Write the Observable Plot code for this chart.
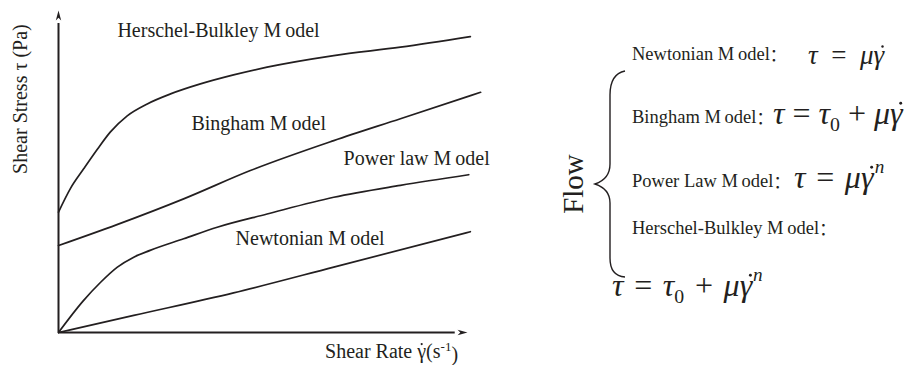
<!DOCTYPE html>
<html><head><meta charset="utf-8">
<script src="https://cdn.jsdelivr.net/npm/d3@7"></script>
<script src="https://cdn.jsdelivr.net/npm/@observablehq/plot@0.6"></script>
<style>body{margin:0;background:#fff} svg{display:block}</style>
</head><body><div id="chart"></div>
<script>
// ---- data (arbitrary units 0..100) ----
const models = ["Herschel-Bulkley", "Bingham", "Power law", "Newtonian"];
const hbX = [0, 2.9, 6.2, 9.5, 12.7, 16.8, 21.7, 27.4, 34.7, 42.8, 51.0, 67.3, 83.6, 100.7];
const hbY = [37.4, 44.7, 50.9, 56.9, 62.3, 67.3, 71.0, 74.1, 77.2, 80.0, 82.4, 86.0, 88.6, 91.9];
const binghamX = [0, 14.3, 30.6, 46.9, 67.3, 83.6, 103.2];
const binghamY = [27.0, 33.5, 41.5, 50.3, 59.6, 66.4, 74.6];
const powerX = [0, 6.1, 10.3, 14.4, 18.4, 22.4, 30.6, 38.8, 51.0, 67.3, 83.6, 100.3];
const powerY = [0, 9.9, 15.6, 20.3, 23.4, 25.5, 29.1, 32.7, 36.8, 42.0, 45.7, 49.0];
const newtonX = [0, 18.4, 42.8, 67.3, 100.7];
const newtonY = [0, 5.3, 12.3, 20.3, 31.3];

const curveLabels = ["Herschel-Bulkley M\u2009odel", "Bingham M\u2009odel", "Power law M\u2009odel", "Newtonian M\u2009odel"];
const yTitle = "Shear Stress τ (Pa)";
const xTitleParts = ["Shear Rate ", "γ", "(s", "-1", ")"];
const flowTitle = "Flow";
const panelLabels = ["Newtonian M\u2009odel：", "Bingham M\u2009odel：", "Power Law M\u2009odel：", "Herschel-Bulkley M\u2009odel："];

// ---- tables built from the arrays ----
const series = [[hbX, hbY], [binghamX, binghamY], [powerX, powerY], [newtonX, newtonY]];
const rows = series.flatMap(([xs, ys], i) => xs.map((x, j) => ({model: models[i], x, y: ys[j]})));
const labelPos = [[14.4, 93.8], [32.5, 64.9], [69.7, 54.0], [43.3, 29.2]];
const labels = curveLabels.map((t, i) => ({text: t, x: labelPos[i][0], y: labelPos[i][1]}));

const INK = "#231f20";
const SERIF = "'Times New Roman','Liberation Serif',serif";
const MATH = "'Liberation Serif','DejaVu Serif',serif";
const CJK = "'Noto Sans CJK SC',sans-serif";

const arrowUp = {draw(ctx, size) { const r = Math.sqrt(size / Math.PI);
  ctx.moveTo(0, 0); ctx.lineTo(-0.6 * r, 2.2 * r); ctx.lineTo(0, 1.6 * r); ctx.lineTo(0.6 * r, 2.2 * r); ctx.closePath(); }};
const arrowRight = {draw(ctx, size) { const r = Math.sqrt(size / Math.PI);
  ctx.moveTo(0, 0); ctx.lineTo(-2.2 * r, -0.6 * r); ctx.lineTo(-1.6 * r, 0); ctx.lineTo(-2.2 * r, 0.6 * r); ctx.closePath(); }};

const plot = Plot.plot({
  width: 919, height: 365, margin: 0,
  x: {domain: [0, 100], range: [58, 467], axis: null},
  y: {domain: [0, 100], range: [332, 10], axis: null},
  style: {fontFamily: SERIF, background: "#fff", color: INK},
  marks: [
    Plot.ruleY([0], {x1: 0, x2: 97, stroke: INK, strokeWidth: 2}),
    Plot.ruleX([0], {y1: 0, y2: 96, stroke: INK, strokeWidth: 2}),
    Plot.dot([0], {x: 0, y: 100, symbol: arrowUp, r: 4.5, fill: INK, stroke: "none"}),
    Plot.dot([0], {x: 100, y: 0, symbol: arrowRight, r: 4.5, fill: INK, stroke: "none"}),
    Plot.line(rows, {x: "x", y: "y", z: "model", stroke: INK, strokeWidth: 1.7, curve: "monotone-x"}),
    Plot.text(labels, {x: "x", y: "y", text: "text", textAnchor: "start", fontSize: 20, fill: INK}),
    Plot.text([yTitle], {x: -9.3, y: 72.5, text: d => d, rotate: -90, fontSize: 20, fill: INK})
  ]
});
document.getElementById("chart").appendChild(plot);

// ---- rich text (titles and equations) ----
const sx = plot.scale("x"), sy = plot.scale("y");
const svg = d3.select(plot);
const g = svg.append("g").attr("fill", INK).attr("font-family", SERIF).attr("text-anchor", "start");
// parts: {t, i: italic, f: font, s: size, dy, dx, dot: put a dot over this part's last char}
function rich(x, y, parts, size) {
  const t = g.append("text").attr("x", x).attr("y", y).attr("font-size", size).attr("dominant-baseline", "middle");
  let idx = 0; const dots = [];
  for (const p of parts) {
    const s = t.append("tspan").text(p.t);
    if (p.i) s.attr("font-style", "italic").attr("font-family", MATH);
    if (p.f) s.attr("font-family", p.f);
    if (p.s) s.attr("font-size", p.s);
    if (p.dy) s.attr("dy", p.dy);
    if (p.dx) s.attr("dx", p.dx);
    idx += p.t.length;
    if (p.dot) dots.push({ci: idx - 1, italic: !!p.i});
  }
  const node = t.node();
  for (const d of dots) {
    const e = node.getExtentOfChar(d.ci);
    const base = e.y + e.height * 0.805;
    const cy = base - 0.66 * size;
    const cx = e.x + e.width * 0.5 + (d.italic ? 0.66 * size * 0.21 : 0);
    g.append("circle").attr("cx", cx).attr("cy", cy).attr("r", Math.max(1.1, size * 0.045)).attr("fill", INK);
  }
  return t;
}
const labelParts = s => [{t: s.slice(0, -1)}, {t: s.slice(-1), f: CJK, s: "0.9em"}];

// x-axis title, anchored to the x scale
rich(sx.apply(65.3), sy.apply(-6.5), [
  {t: xTitleParts[0]}, {t: xTitleParts[1], dot: 1}, {t: xTitleParts[2]},
  {t: xTitleParts[3], s: "0.65em", dy: "-0.4em"}, {t: xTitleParts[4], dy: "0.4em"}
], 20);

const SP = "\u2004", EN = "\u2002";
const eqNewton = [{t: "τ", i: 1}, {t: EN + "=" + EN}, {t: "μγ", i: 1, dot: 1}];
const eqBingham = [{t: "τ", i: 1}, {t: " = "}, {t: "τ", i: 1}, {t: "0", s: "0.62em", dy: 9}, {t: " + ", dy: -9}, {t: "μγ", i: 1, dot: 1}];
const eqPower = [{t: "τ", i: 1}, {t: SP + "=" + SP}, {t: "μγ", i: 1, dot: 1}, {t: "n", i: 1, s: "0.6em", dy: -12, dx: "0.06em"}];
const eqHB = [{t: "τ", i: 1}, {t: SP + "=" + SP}, {t: "τ", i: 1}, {t: "0", s: "0.62em", dy: 9}, {t: SP + "+" + SP, dy: -9}, {t: "μγ", i: 1, dot: 1}, {t: "n", i: 1, s: "0.6em", dy: -12, dx: "0.04em"}];

rich(632, 56, labelParts(panelLabels[0]), 18.5);
rich(808, 58, eqNewton, 27);
rich(632, 119, labelParts(panelLabels[1]), 18.5);
rich(773, 117, eqBingham, 32);
rich(632, 183, labelParts(panelLabels[2]), 18.5);
rich(794, 181, eqPower, 32);
rich(632, 230, labelParts(panelLabels[3]), 18.5);
rich(612, 289, eqHB, 32);

g.append("text").attr("transform", "translate(576,184) rotate(-90)").attr("text-anchor", "middle")
  .attr("dominant-baseline", "middle").attr("font-size", 29).text(flowTitle);

const p = d3.path();
p.moveTo(625, 71);
p.quadraticCurveTo(610, 74, 610, 95);
p.lineTo(610, 164);
p.quadraticCurveTo(610, 179, 595, 184);
p.quadraticCurveTo(610, 189, 610, 203);
p.lineTo(610, 258);
p.quadraticCurveTo(610, 276, 625, 277);
g.append("path").attr("d", p.toString()).attr("fill", "none").attr("stroke", INK).attr("stroke-width", 1.4);
</script></body></html>
